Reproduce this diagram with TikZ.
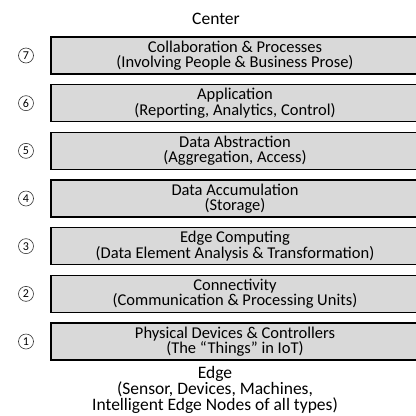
\documentclass[tikz,border=0pt]{standalone}
\usepackage{fontspec}
\setmainfont{Carlito}
\begin{document}
\begin{tikzpicture}[x=1bp,y=-1bp,
  layer/.style={draw=black,line width=1.6bp,fill=black!15},
  boxtext/.style={align=center,font=\fontsize{16.5bp}{15.5bp}\selectfont,inner sep=0pt},
  numlabel/.style={circle,draw=black!80,line width=0.6bp,minimum size=15bp,inner sep=0pt,font=\fontsize{12bp}{12bp}\selectfont},
  endtext/.style={align=center,font=\fontsize{17.5bp}{16bp}\selectfont,inner sep=0pt}]
\useasboundingbox (0,0) rectangle (416,416);
\node[endtext] (center) at (216,19) {Center};
\foreach \i/\n/\t in {0/7/{Collaboration \& Processes\\(Involving People \& Business Prose)},
                      1/6/{Application\\(Reporting, Analytics, Control)},
                      2/5/{Data Abstraction\\(Aggregation, Access)},
                      3/4/{Data Accumulation\\(Storage)},
                      4/3/{Edge Computing\\(Data Element Analysis \& Transformation)},
                      5/2/{Connectivity\\(Communication \& Processing Units)},
                      6/1/{Physical Devices \& Controllers\\(The “Things” in IoT)}}{
  \pgfmathsetmacro{\top}{37+47.67*\i}
  \draw[layer] (51,\top) rectangle (420,\top+37);
  \node[boxtext] (layer\n) at (235,\top+18.5) {\t};
  \node[numlabel] (num\n) at (26,\top+18.5) {\n};
}
\node[endtext] (edge) at (215,390) {Edge\\(Sensor, Devices, Machines,\\Intelligent Edge Nodes of all types)};
\end{tikzpicture}
\end{document}
